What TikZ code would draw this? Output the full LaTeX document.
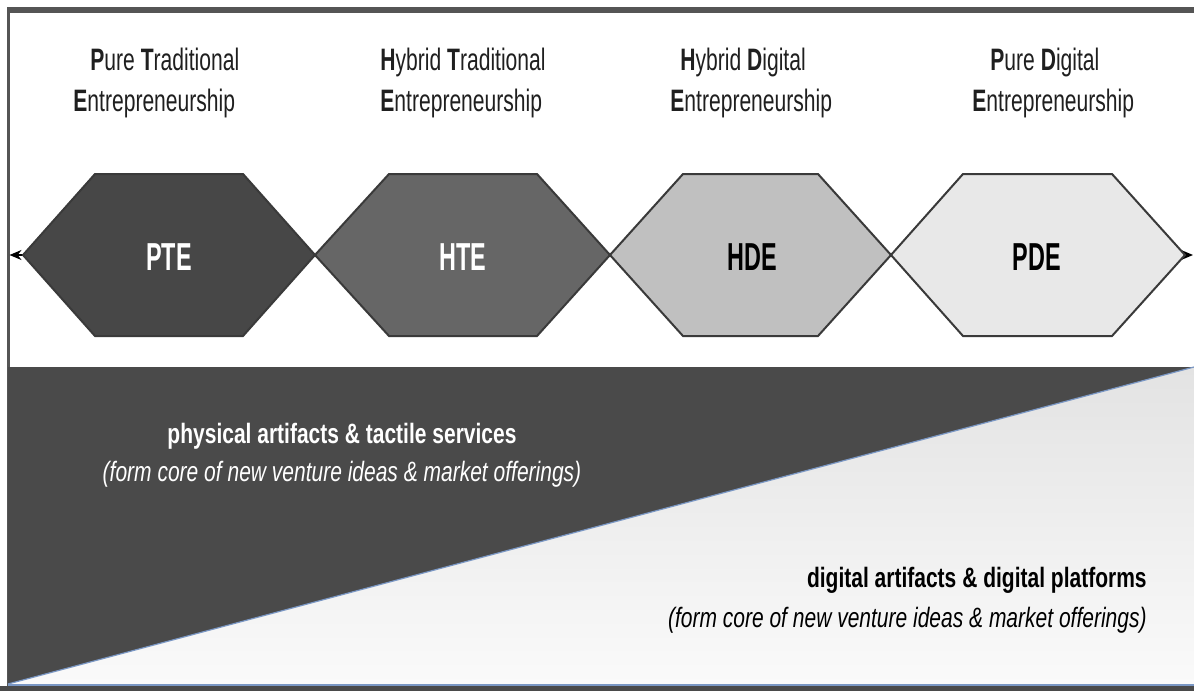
\documentclass[tikz,border=0pt]{standalone}
\usepackage{fontspec}
\usetikzlibrary{arrows.meta}
\newfontfamily\labfont{Liberation Sans}[FakeStretch=0.68]
\newfontfamily\hexfont{Liberation Sans}[FakeStretch=0.6]
\newfontfamily\botfont{Liberation Sans}[FakeStretch=0.75]
\definecolor{frame}{HTML}{555555}
\definecolor{darkfill}{HTML}{4A4A4A}
\definecolor{hexline}{HTML}{3A3A3A}
\definecolor{cPTE}{HTML}{474747}
\definecolor{cHTE}{HTML}{666666}
\definecolor{cHDE}{HTML}{C0C0C0}
\definecolor{cPDE}{HTML}{E8E8E8}
\definecolor{edgeblue}{HTML}{7A97C4}
\tikzset{
  toplab/.style={anchor=base west, inner sep=0pt, font=\labfont\fontsize{15.5}{18}\selectfont, text=black!88},
  hexlab/.style={anchor=base, inner sep=0pt, font=\hexfont\bfseries\fontsize{19.5}{22}\selectfont},
  hexbox/.style={draw=hexline, line width=1pt, line join=miter},
  botlab/.style={inner sep=0pt, font=\botfont\bfseries\fontsize{14}{17}\selectfont},
  botsub/.style={inner sep=0pt, font=\botfont\itshape\fontsize{14}{17}\selectfont},
}
\begin{document}
\begin{tikzpicture}[x=0.5pt,y=-0.5pt]
\useasboundingbox (0,0) rectangle (1194,691);
\fill[white] (0,0) rectangle (1194,691);
% frame
\fill[frame] (7,7) rectangle (1194,12.5);
\fill[frame] (7,7) rectangle (9.5,691);
% lower band
\fill[darkfill] (8,367) rectangle (1194,685);
\shade[top color=black!11, bottom color=black!2] (8,684) -- (1194,367) -- (1194,684) -- cycle;
\draw[edgeblue, line width=0.6pt] (8,684) -- (1194,367);
\fill[edgeblue] (8,683.5) rectangle (1194,685.5);
\fill[darkfill] (0,685.5) rectangle (1194,691);
% axis arrow
\coordinate (aL) at (9.5,255);
\coordinate (aR) at (1193,255);
\draw[line width=0.8pt, {Stealth[length=6pt,width=5pt]}-{Stealth[length=6pt,width=5pt]}] (aL) -- (aR);
% hexagons
\draw[hexbox, fill=cPTE] (23,255) -- (95,174) -- (243,174) -- (315,255) -- (243,336) -- (95,336) -- cycle;
\draw[hexbox, fill=cHTE] (315,255) -- (389,174) -- (537,174) -- (610,255) -- (537,336) -- (389,336) -- cycle;
\draw[hexbox, fill=cHDE] (610,255) -- (683,174) -- (818,174) -- (891,255) -- (818,336) -- (683,336) -- cycle;
\draw[hexbox, fill=cPDE] (891,255) -- (963,174) -- (1112,174) -- (1185,255) -- (1112,336) -- (963,336) -- cycle;
\node[hexlab, text=white] (pte) at (169,270) {PTE};
\node[hexlab, text=white] (hte) at (463,270) {HTE};
\node[hexlab, text=black] (hde) at (752,270) {HDE};
\node[hexlab, text=black] (pde) at (1037,270) {PDE};
% top labels
\node[toplab] (pte1) at (90,70) {\textbf{P}ure \textbf{T}raditional};
\node[toplab] (pte2) at (73,111) {\textbf{E}ntrepreneurship};
\node[toplab] (hte1) at (380,70) {\textbf{H}ybrid \textbf{T}raditional};
\node[toplab] (hte2) at (380,111) {\textbf{E}ntrepreneurship};
\node[toplab] (hde1) at (680,70) {\textbf{H}ybrid \textbf{D}igital};
\node[toplab] (hde2) at (670,111) {\textbf{E}ntrepreneurship};
\node[toplab] (pde1) at (990,70) {\textbf{P}ure \textbf{D}igital};
\node[toplab] (pde2) at (972,111) {\textbf{E}ntrepreneurship};
% bottom texts
\node[botlab, anchor=base, text=white] (phys) at (342,443) {physical artifacts \& tactile services};
\node[botsub, anchor=base, text=white] (physsub) at (342,481) {(form core of new venture ideas \& market offerings)};
\node[botlab, anchor=base east, text=black] (digi) at (1147,587) {digital artifacts \& digital platforms};
\node[botsub, anchor=base east, text=black] (digisub) at (1147,627) {(form core of new venture ideas \& market offerings)};
\end{tikzpicture}
\end{document}
